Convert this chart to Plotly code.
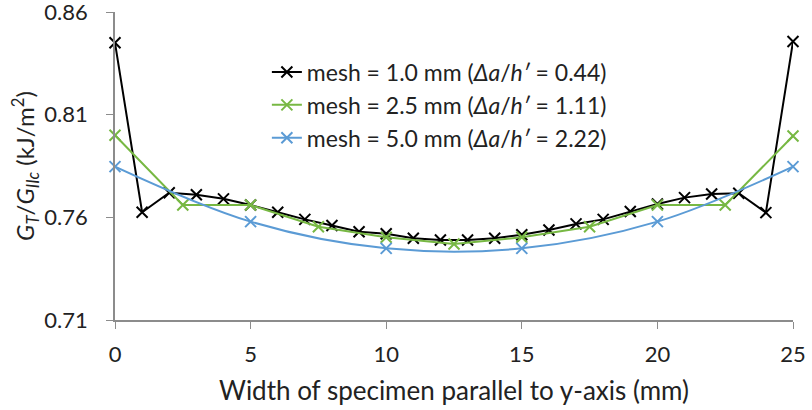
import plotly.graph_objects as go

x_10 = list(range(0, 26))
y_10 = [0.845, 0.7625, 0.772, 0.771, 0.769, 0.766, 0.7625, 0.759, 0.756, 0.753,
        0.752, 0.7498, 0.749, 0.749, 0.7498, 0.7515, 0.7538, 0.7568, 0.759, 0.7628,
        0.7665, 0.7696, 0.7714, 0.7717, 0.7623, 0.8456]
x_25 = [0, 2.5, 5, 7.5, 10, 12.5, 15, 17.5, 20, 22.5, 25]
y_25 = [0.800, 0.766, 0.766, 0.7554, 0.7503, 0.747, 0.7503, 0.7554, 0.766, 0.766, 0.7996]
x_50 = [0, 5, 10, 15, 20, 25]
y_50 = [0.7847, 0.7579, 0.7449, 0.7449, 0.7579, 0.7847]

names = ["mesh = 1.0 mm (<i>Δa</i>/<i>h′</i> = 0.44)",
         "mesh = 2.5 mm (<i>Δa</i>/<i>h′</i> = 1.11)",
         "mesh = 5.0 mm (<i>Δa</i>/<i>h′</i> = 2.22)"]
colors = ["#000000", "#77B843", "#5B9BD5"]
y_ticks = [0.71, 0.76, 0.81, 0.86]
y_ticktext = ["0.71", "0.76", "0.81", "0.86"]
x_ticks = [0, 5, 10, 15, 20, 25]

FONT = "Lato"
fig = go.Figure()
for xs, ys, nm, c, shp in [(x_10, y_10, names[0], colors[0], "linear"),
                           (x_25, y_25, names[1], colors[1], "linear"),
                           (x_50, y_50, names[2], colors[2], "spline")]:
    fig.add_trace(go.Scatter(
        x=xs, y=ys, name=nm, mode="lines+markers",
        line=dict(color=c, width=2, shape=shp),
        marker=dict(symbol="x-thin", size=11, line=dict(color=c, width=2)),
        cliponaxis=False,
    ))

fig.update_layout(
    width=812, height=410,
    margin=dict(l=115, r=19, t=12, b=90),
    paper_bgcolor="white", plot_bgcolor="white",
    font=dict(family=FONT, size=22, color="#222"),
    legend=dict(x=0.224, y=0.875, xanchor="left", yanchor="top",
                bgcolor="rgba(255,255,255,0)", font=dict(size=23),
                tracegroupgap=0),
    showlegend=True,
)
fig.update_xaxes(
    range=[0, 25], tickvals=x_ticks, showgrid=False, zeroline=False,
    showline=True, linecolor="#8c8c8c", linewidth=1.5,
    ticks="outside", ticklen=7, tickcolor="#8c8c8c", ticklabelstandoff=7,
    tickfont=dict(size=22), ticklabeloverflow="allow", automargin=False,
    title=dict(text="Width of specimen parallel to y-axis (mm)", standoff=16,
               font=dict(size=26)),
)
fig.update_yaxes(
    range=[0.71, 0.86], tickvals=y_ticks, ticktext=y_ticktext,
    showgrid=False, zeroline=False,
    showline=True, linecolor="#8c8c8c", linewidth=1.5,
    ticks="outside", ticklen=7, tickcolor="#8c8c8c", ticklabelstandoff=14,
    tickfont=dict(size=22), ticklabeloverflow="allow", automargin=False,
    title=dict(text="<i>G<sub>T</sub></i>/<i>G<sub>IIc</sub></i> (kJ/m<sup>2</sup>)", standoff=3,
               font=dict(size=24)),
)
fig.write_html("out.html")
